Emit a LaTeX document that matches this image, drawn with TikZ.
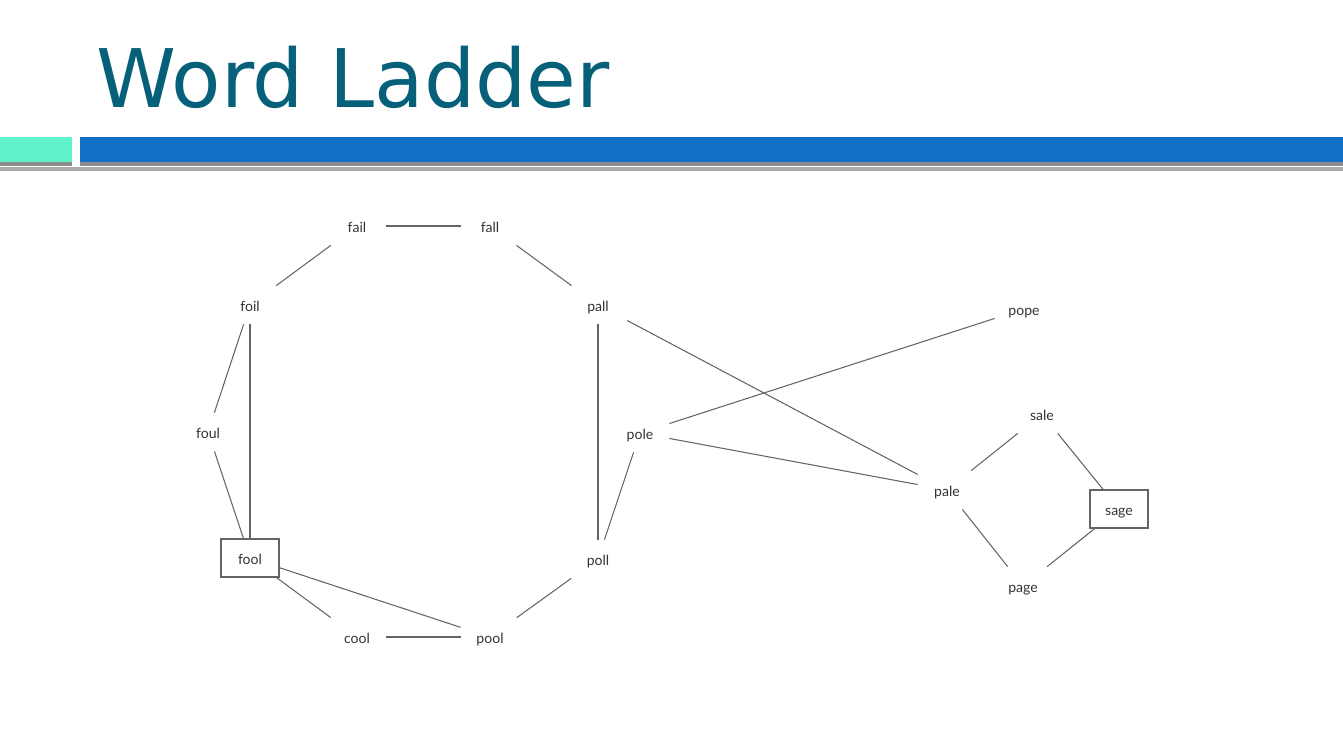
\documentclass[tikz,border=0pt]{standalone}
\usepackage{fontspec}
\setmainfont{Lato}
\newfontfamily\titelfont{DejaVu Sans}
\definecolor{titelfarbe}{RGB}{6,96,122}
\definecolor{tuerkis}{RGB}{96,242,200}
\definecolor{balkenblau}{RGB}{15,112,198}
\definecolor{balkengrau}{RGB}{140,140,140}
\definecolor{kante}{RGB}{100,100,100}
\tikzset{
	wort/.style={rectangle, minimum width=1.16cm, minimum height=0.76cm,
		inner sep=0pt, text height=7pt, text depth=0pt, text=black!80,
		font=\fontsize{8}{9}\selectfont},
	wortbox/.style={wort, draw=kante, line width=0.6pt},
	kanten/.style={draw=kante, line width=0.6pt}
}
\begin{document}
\begin{tikzpicture}[x=0.02cm, y=-0.02cm]
	\useasboundingbox (0,0) rectangle (1343,744);
	% Kopfzeile
	\node[anchor=base west, inner sep=0pt, text=titelfarbe,
	font=\titelfont\fontsize{46}{50}\selectfont] (titel) at (96,107) {Word Ladder};
	\fill[tuerkis] (0,137) rectangle (72,162);
	\fill[balkenblau] (80,137) rectangle (1343,162);
	\fill[balkengrau] (0,162) rectangle (72,166);
	\fill[balkengrau] (80,162) rectangle (1343,166);
	\fill[balkengrau!75] (0,167) rectangle (1343,171);

	% Woerter
	\foreach \w/\x/\y in {fail/357/226, fall/490/226, foil/250/305,
		pall/598/305, pope/1024/309, sale/1042/414, foul/208/432,
		pole/640/433, pale/947/490, poll/598/559, page/1023/586,
		cool/357/637, pool/490/637}
		\node[wort] (\w) at (\x,\y) {\w};
	\node[wortbox] (fool) at (250,558) {fool};
	\node[wortbox] (sage) at (1119,509) {sage};

	% Kanten
	\foreach \a/\b in {fail/fall, fail/foil, fall/pall, foil/foul,
		foil/fool, foul/fool, fool/cool, fool/pool, cool/pool, pool/poll,
		poll/pall, poll/pole, pole/pope, pole/pale, pall/pale, pale/sale,
		pale/page, sale/sage, page/sage}
		\draw[kanten] (\a) -- (\b);
\end{tikzpicture}
\end{document}
